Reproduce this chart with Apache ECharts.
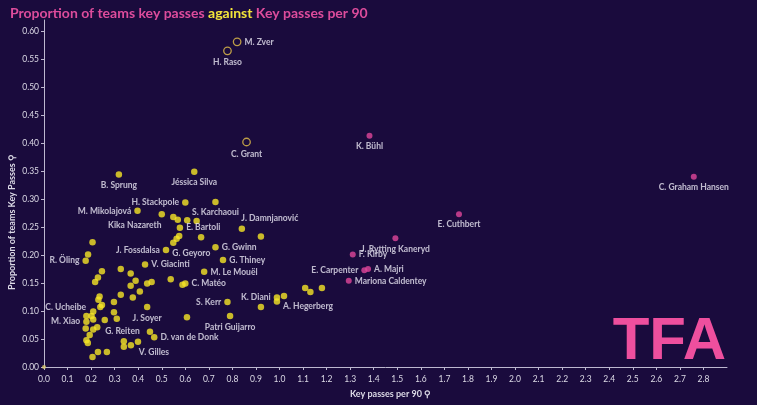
<!DOCTYPE html>
<html><head><meta charset="utf-8">
<script src="https://cdn.jsdelivr.net/npm/echarts@6/dist/echarts.min.js"></script>
<style>html,body{margin:0;padding:0;background:#1a0b3d;}#c{width:757px;height:405px;}</style>
</head><body><div id="c"></div>
<script>
// ---- data ----
const yellowNames = ["B. Sprung","Jéssica Silva","H. Stackpole","S. Karchaoui","M. Mikolajová","Kika Nazareth","E. Bartoli","J. Damnjanović","G. Gwinn","J. Fossdalsa","G. Geyoro","R. Öling","G. Thiney","V. Giacinti","M. Le Mouël","C. Matéo","S. Kerr","K. Diani","A. Hegerberg","Patri Guijarro","J. Soyer","C. Ucheibe","M. Xiao","G. Reiten","D. van de Donk","V. Gilles"];
const yellowX = [0.318,0.638,0.600,0.728,0.397,0.500,0.577,0.840,0.728,0.518,0.549,0.177,0.760,0.429,0.680,0.600,0.779,0.989,1.019,0.790,0.438,0.180,0.180,0.450,0.468,0.399];
const yellowY = [0.344,0.349,0.294,0.295,0.279,0.273,0.249,0.247,0.214,0.209,0.222,0.190,0.191,0.183,0.170,0.149,0.116,0.124,0.127,0.091,0.107,0.091,0.081,0.063,0.053,0.045];
const otherX = [0.588,0.989,0.921,1.109,1.131,1.180,0.921,0.549,0.568,0.608,0.648,0.667,0.574,0.563,0.206,0.187,0.326,0.246,0.368,0.229,0.389,0.538,0.457,0.438,0.217,0.368,0.407,0.326,0.377,0.236,0.231,0.246,0.239,0.297,0.209,0.202,0.297,0.309,0.209,0.258,0.607,0.177,0.209,0.226,0.194,0.180,0.186,0.339,0.369,0.339,0.229,0.267,0.206];
const otherY = [0.147,0.117,0.107,0.141,0.134,0.141,0.233,0.268,0.263,0.262,0.261,0.232,0.234,0.229,0.223,0.201,0.175,0.171,0.167,0.160,0.154,0.157,0.152,0.149,0.152,0.145,0.135,0.129,0.124,0.126,0.120,0.111,0.107,0.116,0.099,0.091,0.098,0.086,0.085,0.084,0.089,0.069,0.067,0.071,0.057,0.048,0.043,0.046,0.039,0.036,0.027,0.027,0.018];
const originX = [0.000];
const originY = [0.000];
const pinkNames = ["K. Bühl","C. Graham Hansen","E. Cuthbert","J. Rytting Kaneryd","F. Kirby","E. Carpenter","A. Majri","Mariona Caldentey"];
const pinkX = [1.382,2.759,1.762,1.492,1.311,1.360,1.376,1.294];
const pinkY = [0.413,0.340,0.273,0.230,0.201,0.173,0.175,0.154];
const ringNames = ["M. Zver","H. Raso","C. Grant"];
const ringX = [0.820,0.779,0.860];
const ringY = [0.581,0.565,0.402];
const titleParts = ["Proportion of teams key passes ","against"," Key passes per 90"];
const xName = "Key passes per 90 ⚲";
const yName = "Proportion of teams Key Passes ⚲";

// ---- label placement (style) ----
const place = {
 "M. Zver":["right",0,0],"H. Raso":["bottom",0,0],"C. Grant":["bottom",0,0],
 "K. Bühl":["bottom",0,0],"C. Graham Hansen":["bottom",0,0],"E. Cuthbert":["bottom",0,0],
 "J. Rytting Kaneryd":["bottom",0,0],"F. Kirby":["right",0,0],"E. Carpenter":["left",0,0],
 "A. Majri":["right",0,0],"Mariona Caldentey":["right",0,0],"B. Sprung":["bottom",0,0],
 "Jéssica Silva":["bottom",0,0],"H. Stackpole":["left",0,0],"S. Karchaoui":["bottom",0,0],
 "M. Mikolajová":["left",0,0],"Kika Nazareth":["bottom",-27,0],"E. Bartoli":["right",0,0],
 "J. Damnjanović":["top",28,0],"G. Gwinn":["right",0,0],"J. Fossdalsa":["left",0,0],
 "G. Geyoro":["bottom",18,0],"R. Öling":["left",0,0],"G. Thiney":["right",0,0],
 "V. Giacinti":["right",0,0],"M. Le Mouël":["right",0,0],"C. Matéo":["right",0,0],
 "S. Kerr":["left",0,0],"K. Diani":["left",0,0],"A. Hegerberg":["bottom",24,0],
 "Patri Guijarro":["bottom",0,0],"J. Soyer":["bottom",0,0],"C. Ucheibe":["left",6,-9],
 "M. Xiao":["left",0,0],"G. Reiten":["left",-4,0],"D. van de Donk":["right",0,0],
 "V. Gilles":["bottom",16,0]
};
function build(names, xs, ys){
  return xs.map((x,i)=>{
    const n = names ? names[i] : '';
    const item = {name:n, value:[x, ys[i]]};
    if(n && place[n]){
      const p = place[n];
      item.label = {show:true, position:p[0], offset:[p[1],p[2]]};
    }
    return item;
  });
}
const FONT = 'Lato';
const lbl = {show:false, formatter:'{b}', color:'#e8e6f2', fontSize:8.5, fontFamily:FONT, fontWeight:'bold', distance:3};
const chart = echarts.init(document.getElementById('c'), null, {renderer:'canvas'});
chart.setOption({
  backgroundColor:'#1a0b3d',
  animation:false,
  title:{left:5, top:1, text:'{p|'+titleParts[0]+'}{y|'+titleParts[1]+'}{p|'+titleParts[2]+'}',
    textStyle:{rich:{p:{color:'#dd4c9c',fontSize:14,fontWeight:'bold',fontFamily:FONT},y:{color:'#f2e43a',fontSize:14,fontWeight:'bold',fontFamily:FONT}}}},
  grid:{left:44, right:30, top:20, bottom:38},
  xAxis:{type:'value', min:0, max:2.9, interval:0.1,
    axisLine:{show:true,lineStyle:{color:'#bdb8d0',width:1}},
    axisTick:{show:true,length:3,lineStyle:{color:'#bdb8d0'}},
    splitLine:{show:false},
    axisLabel:{color:'#dcdae6',fontSize:8.5,fontFamily:FONT,margin:8,showMaxLabel:false,formatter:v=>v.toFixed(1)}},
  yAxis:{type:'value', min:0, max:0.62, interval:0.05,
    axisLine:{show:true,lineStyle:{color:'#bdb8d0',width:1}},
    axisTick:{show:true,length:3,lineStyle:{color:'#bdb8d0'}},
    splitLine:{show:false},
    axisLabel:{color:'#dcdae6',fontSize:8.5,fontFamily:FONT,margin:5,showMaxLabel:false,formatter:v=>v.toFixed(2)}},
  graphic:[
    {type:'text', left:350, top:390, style:{text:xName, fill:'#dcdae6', font:'bold 9px '+FONT}},
    {type:'text', x:8, y:290, rotation:Math.PI/2, style:{text:yName, fill:'#dcdae6', font:'bold 9px '+FONT, align:'left', verticalAlign:'top'}},
    {type:'text', right:31, top:312, style:{text:'TFA', fill:'#ee4f9e', font:'900 60px "Liberation Sans"'}}
  ],
  series:[
    {type:'scatter', symbolSize:6.5, itemStyle:{color:'#f6e626'}, label:lbl, data:build(null, otherX, otherY), z:2},
    {type:'scatter', symbolSize:4, itemStyle:{color:'#d9c86a'}, label:lbl, data:build(null, originX, originY), z:2},
    {type:'scatter', symbolSize:6.5, itemStyle:{color:'#f6e626'}, label:lbl, data:build(yellowNames, yellowX, yellowY), z:3},
    {type:'scatter', symbolSize:6, itemStyle:{color:'#e0469a'}, label:lbl, data:build(pinkNames, pinkX, pinkY), z:3},
    {type:'scatter', symbolSize:7.5, itemStyle:{color:'#1a0b3d', borderColor:'#e6c24a', borderWidth:1.3}, label:lbl, data:build(ringNames, ringX, ringY), z:3}
  ]
});
</script></body></html>
